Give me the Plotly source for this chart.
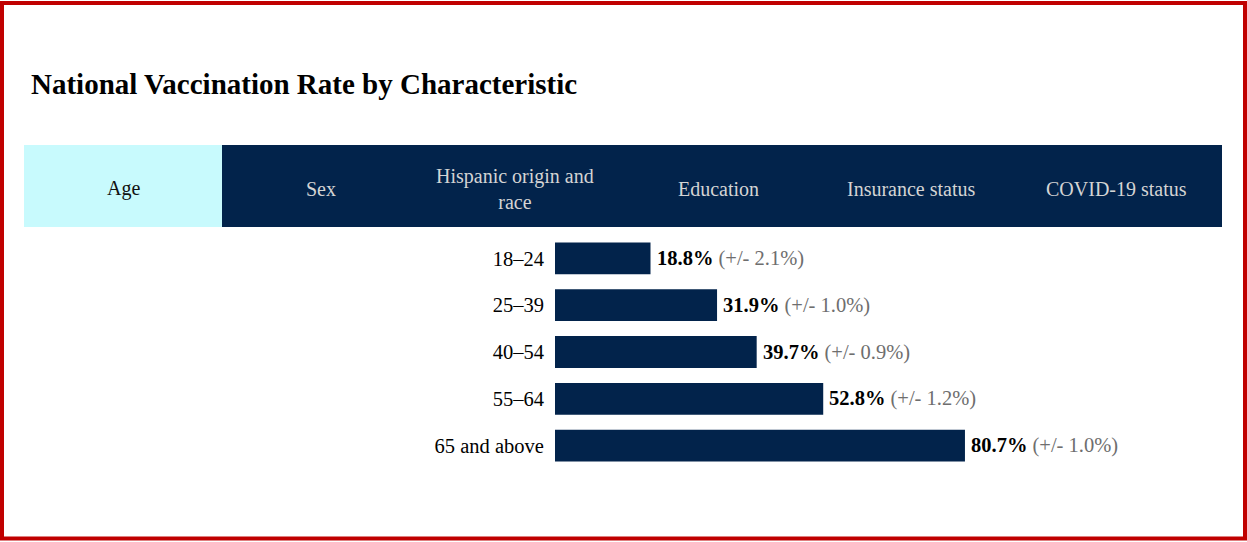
import plotly.graph_objects as go

W, H = 1247, 542

categories = ["18–24", "25–39", "40–54", "55–64", "65 and above"]
rates = [18.8, 31.9, 39.7, 52.8, 80.7]
margins = [2.1, 1.0, 0.9, 1.2, 1.0]
tabs = ["Age", "Sex", "Hispanic origin and<br>race", "Education", "Insurance status", "COVID-19 status"]
active_tab = 0

NAVY = "#02234B"
SERIF = "Liberation Serif, Times New Roman, serif"

def px(x):
    return x / W

def py(y):
    return 1 - y / H

fig = go.Figure()
fig.add_trace(go.Bar(
    y=categories, x=rates, orientation="h",
    marker=dict(color=NAVY, line=dict(width=0)),
    hoverinfo="skip",
))

shapes = []
annotations = []

# red frame
shapes.append(dict(type="rect", xref="paper", yref="paper",
                   x0=px(2), x1=px(1245), y0=py(538.5), y1=py(3),
                   line=dict(color="#C00000", width=4), fillcolor="rgba(0,0,0,0)"))

# tab bar
tab_x0, tab_x1, tab_y0, tab_y1 = 24, 1222, 145, 227
shapes.append(dict(type="rect", xref="paper", yref="paper", layer="below",
                   x0=px(tab_x0), x1=px(tab_x1), y0=py(tab_y1), y1=py(tab_y0),
                   line=dict(width=0), fillcolor=NAVY))
label_centers = [123, 321, 515, 718, 911, 1116]
for i, t in enumerate(tabs):
    if i == active_tab:
        shapes.append(dict(type="rect", xref="paper", yref="paper", layer="below",
                           x0=px(tab_x0), x1=px(222),
                           y0=py(tab_y1), y1=py(tab_y0),
                           line=dict(width=0), fillcolor="#C8FAFD"))
    annotations.append(dict(
        xref="paper", yref="paper", x=px(label_centers[i]), y=py((tab_y0 + tab_y1) / 2 + 2.5),
        text=t, showarrow=False, xanchor="center", yanchor="middle", align="center",
        font=dict(family=SERIF, size=20,
                  color="#111111" if i == active_tab else "#D4D4D4"),
    ))

# value labels
for c, v, m in zip(categories, rates, margins):
    annotations.append(dict(
        x=v, y=c, xref="x", yref="y", xanchor="left", yanchor="middle",
        xshift=4, showarrow=False,
        text=f"<b>{v:.1f}%</b> <span style='color:#6E6E6E'>(+/- {m:.1f}%)</span>",
        font=dict(family=SERIF, size=20.5, color="#000000"),
    ))

fig.update_layout(
    width=W, height=H,
    margin=dict(l=0, r=0, t=0, b=0),
    paper_bgcolor="white", plot_bgcolor="white",
    showlegend=False,
    bargap=0.32,
    title=dict(text="<b>National Vaccination Rate by Characteristic</b>",
               x=px(31), xref="paper", xanchor="left",
               y=py(84), yref="paper", yanchor="middle",
               font=dict(family=SERIF, size=29, color="#000000")),
    xaxis=dict(domain=[px(555), px(1063)], range=[0, 100],
               showgrid=False, zeroline=False, showticklabels=False,
               showline=False, ticks=""),
    yaxis=dict(domain=[py(469), py(235)], autorange="reversed",
               showgrid=False, zeroline=False, showline=False,
               ticks="outside", ticklen=6, tickcolor="rgba(0,0,0,0)",
               tickfont=dict(family=SERIF, size=20.5, color="#000000")),
    shapes=shapes,
    annotations=annotations,
)

fig.write_html(
    "out.html",
    config={"displayModeBar": False},
    post_script="document.body.style.margin='0';document.body.style.overflow='hidden';",
)
